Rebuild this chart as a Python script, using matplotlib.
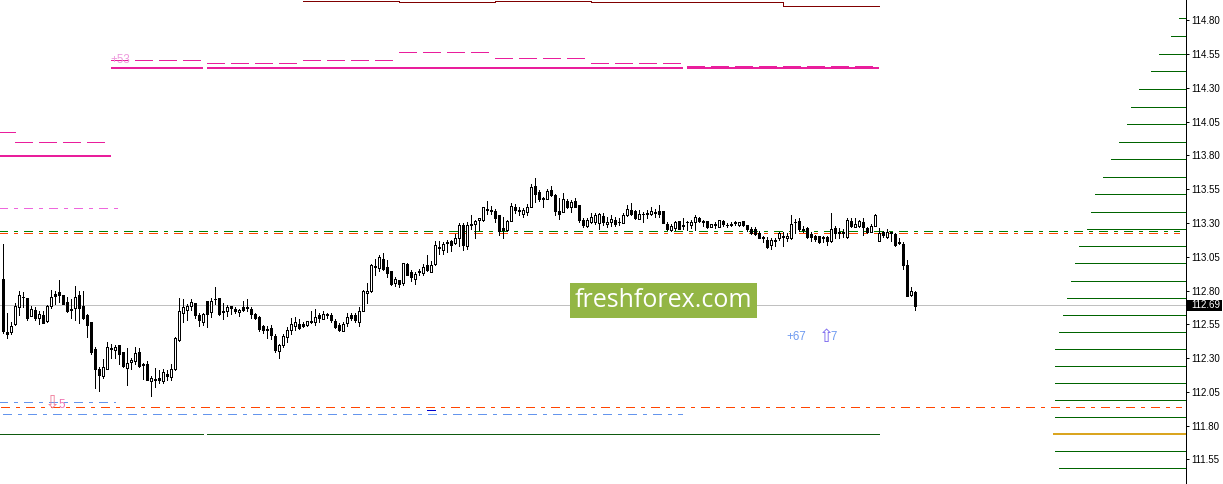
import matplotlib
matplotlib.use("Agg")
import matplotlib.pyplot as plt
from matplotlib.patches import Rectangle

plt.rcParams['lines.scale_dashes'] = False
plt.rcParams['lines.antialiased'] = False
plt.rcParams['patch.antialiased'] = False

opens = [112.885, 112.491, 112.491, 112.550, 112.676, 112.755, 112.742, 112.614, 112.653, 112.594,
         112.616, 112.572, 112.688, 112.772, 112.787, 112.764, 112.715, 112.663, 112.673, 112.764,
         112.686, 112.616, 112.565, 112.367, 112.217, 112.170, 112.222, 112.375, 112.362, 112.394,
         112.345, 112.229, 112.273, 112.281, 112.343, 112.254, 112.256, 112.133, 112.143, 112.150,
         112.133, 112.180, 112.162, 112.217, 112.431, 112.631, 112.658, 112.688, 112.705, 112.619,
         112.570, 112.720, 112.644, 112.740, 112.742, 112.648, 112.651, 112.683, 112.661, 112.644,
         112.676, 112.678, 112.661, 112.624, 112.602, 112.537, 112.515, 112.520, 112.461, 112.350,
         112.399, 112.456, 112.505, 112.540, 112.550, 112.552, 112.542, 112.574, 112.570, 112.619,
         112.592, 112.626, 112.621, 112.577, 112.545, 112.503, 112.562, 112.619, 112.621, 112.570,
         112.651, 112.784, 112.797, 112.972, 112.969, 113.033, 112.972, 112.942, 112.853, 112.875,
         112.853, 112.996, 112.935, 112.888, 112.942, 112.932, 112.986, 112.940, 112.996, 113.120,
         113.100, 113.159, 113.167, 113.154, 113.191, 113.282, 113.132, 113.292, 113.290, 113.322,
         113.319, 113.401, 113.396, 113.386, 113.356, 113.260, 113.248, 113.317, 113.416, 113.393,
         113.366, 113.384, 113.421, 113.574, 113.529, 113.485, 113.480, 113.542, 113.507, 113.386,
         113.384, 113.460, 113.416, 113.463, 113.433, 113.319, 113.278, 113.310, 113.310, 113.302,
         113.354, 113.290, 113.310, 113.324, 113.310, 113.302, 113.361, 113.393, 113.391, 113.332,
         113.369, 113.374, 113.366, 113.379, 113.389, 113.389, 113.292, 113.248, 113.260, 113.312,
         113.285, 113.310, 113.287, 113.310, 113.337, 113.317, 113.312, 113.273, 113.290, 113.273,
         113.315, 113.287, 113.292, 113.305, 113.287, 113.312, 113.282, 113.255, 113.253, 113.228,
         113.196, 113.174, 113.139, 113.176, 113.186, 113.204, 113.186, 113.191, 113.310, 113.312,
         113.253, 113.260, 113.218, 113.204, 113.201, 113.196, 113.194, 113.164, 113.263, 113.231,
         113.233, 113.196, 113.312, 113.273, 113.278, 113.307, 113.260, 113.236, 113.280, 113.169,
         113.231, 113.194, 113.231, 113.218, 113.157, 113.142, 112.986, 112.767, 112.787]
highs = [113.144, 112.631, 112.567, 112.705, 112.797, 112.789, 112.742, 112.686, 112.676, 112.646,
         112.646, 112.690, 112.801, 112.794, 112.875, 112.764, 112.750, 112.735, 112.831, 112.799,
         112.794, 112.629, 112.565, 112.380, 112.232, 112.293, 112.417, 112.402, 112.394, 112.394,
         112.345, 112.375, 112.303, 112.380, 112.377, 112.266, 112.276, 112.165, 112.227, 112.212,
         112.219, 112.209, 112.254, 112.454, 112.745, 112.737, 112.698, 112.735, 112.710, 112.631,
         112.636, 112.720, 112.742, 112.824, 112.742, 112.710, 112.690, 112.686, 112.681, 112.663,
         112.723, 112.735, 112.681, 112.631, 112.614, 112.545, 112.537, 112.542, 112.478, 112.404,
         112.478, 112.528, 112.594, 112.604, 112.587, 112.570, 112.572, 112.651, 112.661, 112.631,
         112.646, 112.636, 112.631, 112.587, 112.557, 112.570, 112.631, 112.636, 112.636, 112.676,
         112.804, 112.853, 112.994, 113.033, 113.063, 113.075, 113.026, 112.942, 112.903, 112.878,
         113.004, 113.001, 112.952, 112.940, 112.959, 112.996, 113.063, 113.016, 113.167, 113.164,
         113.162, 113.174, 113.174, 113.216, 113.297, 113.302, 113.310, 113.356, 113.322, 113.339,
         113.421, 113.460, 113.426, 113.406, 113.361, 113.347, 113.322, 113.445, 113.440, 113.421,
         113.411, 113.438, 113.591, 113.630, 113.544, 113.495, 113.549, 113.574, 113.514, 113.482,
         113.524, 113.480, 113.470, 113.485, 113.433, 113.334, 113.337, 113.371, 113.376, 113.371,
         113.371, 113.342, 113.356, 113.342, 113.334, 113.376, 113.433, 113.448, 113.396, 113.393,
         113.384, 113.396, 113.416, 113.401, 113.433, 113.389, 113.305, 113.290, 113.317, 113.312,
         113.334, 113.315, 113.322, 113.356, 113.347, 113.322, 113.317, 113.295, 113.307, 113.322,
         113.322, 113.297, 113.310, 113.317, 113.310, 113.317, 113.287, 113.273, 113.268, 113.238,
         113.204, 113.199, 113.186, 113.186, 113.233, 113.236, 113.223, 113.356, 113.332, 113.334,
         113.278, 113.268, 113.236, 113.211, 113.206, 113.206, 113.204, 113.374, 113.278, 113.260,
         113.258, 113.334, 113.334, 113.334, 113.322, 113.334, 113.273, 113.290, 113.366, 113.260,
         113.241, 113.253, 113.236, 113.223, 113.186, 113.162, 113.026, 112.824, 112.799]
lows = [112.483, 112.451, 112.481, 112.545, 112.621, 112.681, 112.584, 112.611, 112.584, 112.550,
        112.557, 112.570, 112.671, 112.700, 112.713, 112.700, 112.641, 112.594, 112.582, 112.562,
        112.589, 112.458, 112.333, 112.081, 112.059, 112.150, 112.219, 112.303, 112.301, 112.259,
        112.234, 112.103, 112.222, 112.259, 112.236, 112.148, 112.138, 112.022, 112.088, 112.113,
        112.113, 112.138, 112.135, 112.212, 112.429, 112.565, 112.584, 112.653, 112.599, 112.537,
        112.545, 112.532, 112.606, 112.700, 112.621, 112.592, 112.614, 112.626, 112.631, 112.614,
        112.646, 112.651, 112.599, 112.589, 112.500, 112.486, 112.446, 112.441, 112.343, 112.303,
        112.384, 112.421, 112.478, 112.505, 112.515, 112.528, 112.540, 112.557, 112.545, 112.570,
        112.587, 112.594, 112.565, 112.520, 112.503, 112.500, 112.537, 112.582, 112.570, 112.540,
        112.646, 112.710, 112.792, 112.915, 112.947, 112.952, 112.903, 112.843, 112.836, 112.829,
        112.843, 112.912, 112.873, 112.848, 112.912, 112.912, 112.947, 112.937, 112.991, 113.070,
        113.070, 113.085, 113.090, 113.144, 113.130, 113.100, 113.105, 113.253, 113.191, 113.248,
        113.317, 113.366, 113.364, 113.307, 113.208, 113.189, 113.243, 113.312, 113.371, 113.359,
        113.347, 113.359, 113.416, 113.458, 113.465, 113.421, 113.475, 113.500, 113.359, 113.332,
        113.379, 113.408, 113.384, 113.416, 113.310, 113.273, 113.273, 113.302, 113.292, 113.253,
        113.285, 113.273, 113.278, 113.280, 113.287, 113.297, 113.354, 113.356, 113.332, 113.327,
        113.310, 113.337, 113.356, 113.347, 113.347, 113.300, 113.248, 113.243, 113.248, 113.253,
        113.253, 113.248, 113.263, 113.248, 113.307, 113.278, 113.263, 113.268, 113.263, 113.268,
        113.280, 113.273, 113.280, 113.285, 113.280, 113.278, 113.238, 113.218, 113.211, 113.186,
        113.162, 113.117, 113.110, 113.130, 113.174, 113.130, 113.169, 113.184, 113.223, 113.243,
        113.236, 113.189, 113.169, 113.164, 113.154, 113.162, 113.139, 113.159, 113.186, 113.186,
        113.199, 113.191, 113.273, 113.268, 113.273, 113.211, 113.223, 113.231, 113.275, 113.164,
        113.199, 113.189, 113.169, 113.130, 113.144, 112.962, 112.759, 112.759, 112.656]
closes = [112.503, 112.481, 112.537, 112.686, 112.764, 112.750, 112.599, 112.661, 112.599, 112.624,
          112.562, 112.683, 112.750, 112.762, 112.769, 112.703, 112.651, 112.658, 112.750, 112.673,
          112.599, 112.547, 112.348, 112.222, 112.177, 112.232, 112.380, 112.370, 112.380, 112.333,
          112.241, 112.261, 112.288, 112.335, 112.244, 112.246, 112.140, 112.150, 112.138, 112.138,
          112.195, 112.170, 112.222, 112.446, 112.646, 112.676, 112.686, 112.713, 112.621, 112.584,
          112.624, 112.629, 112.720, 112.735, 112.629, 112.644, 112.676, 112.673, 112.651, 112.658,
          112.656, 112.671, 112.629, 112.594, 112.518, 112.508, 112.505, 112.473, 112.362, 112.394,
          112.461, 112.510, 112.550, 112.565, 112.525, 112.540, 112.572, 112.567, 112.604, 112.599,
          112.626, 112.619, 112.582, 112.532, 112.508, 112.552, 112.602, 112.594, 112.582, 112.646,
          112.797, 112.799, 112.986, 112.984, 113.046, 112.962, 112.930, 112.848, 112.883, 112.848,
          113.001, 112.917, 112.903, 112.920, 112.935, 112.974, 112.954, 112.989, 113.134, 113.112,
          113.144, 113.154, 113.139, 113.186, 113.287, 113.139, 113.282, 113.282, 113.312, 113.334,
          113.416, 113.396, 113.391, 113.337, 113.243, 113.250, 113.312, 113.426, 113.398, 113.389,
          113.393, 113.418, 113.564, 113.512, 113.475, 113.475, 113.537, 113.507, 113.391, 113.366,
          113.475, 113.421, 113.455, 113.421, 113.322, 113.285, 113.322, 113.344, 113.359, 113.366,
          113.310, 113.305, 113.332, 113.290, 113.305, 113.356, 113.401, 113.366, 113.337, 113.366,
          113.364, 113.369, 113.386, 113.374, 113.369, 113.302, 113.255, 113.278, 113.310, 113.255,
          113.275, 113.305, 113.307, 113.342, 113.317, 113.307, 113.273, 113.290, 113.282, 113.319,
          113.290, 113.282, 113.287, 113.300, 113.305, 113.287, 113.255, 113.226, 113.218, 113.191,
          113.191, 113.125, 113.174, 113.169, 113.226, 113.199, 113.204, 113.290, 113.305, 113.253,
          113.248, 113.199, 113.194, 113.179, 113.162, 113.191, 113.164, 113.253, 113.228, 113.226,
          113.228, 113.322, 113.278, 113.290, 113.315, 113.273, 113.236, 113.278, 113.359, 113.223,
          113.211, 113.233, 113.226, 113.137, 113.152, 112.991, 112.762, 112.794, 112.688]

tick_prices = [114.80, 114.55, 114.30, 114.05, 113.80, 113.55, 113.30, 113.05,
               112.80, 112.55, 112.30, 112.05, 111.80, 111.55]
last_price = 112.69

# horizontal profile on the right, longest near the bottom
profile_prices = [114.815, 114.681, 114.550, 114.422, 114.289, 114.156, 114.030, 113.897, 113.771,
                  113.638, 113.512, 113.379, 113.253, 113.130, 113.002, 112.868, 112.743, 112.617,
                  112.491, 112.365, 112.239, 112.114, 111.988, 111.862, 111.610, 111.485]
profile_counts = [2, 4, 7, 9, 12, 14, 15, 17, 19, 21, 23, 24, 25, 27, 28, 29, 30, 31, 32, 33, 33, 33,
                  33, 33, 33, 32]
profile_peak_price = 111.741
profile_peak_count = 33.25

# daily levels: every session is 24 bars
top_steps = [75, 99, 123, 147, 195, 219]
top_levels = [114.946, 114.933, 114.940, 114.933, 114.903, 114.903]

pivot_levels = [113.799, 114.449, 114.449, 114.449]
pivot_from = [-1, 27, 51, 171]
pivot_to = [27, 50, 170, 219]

dash_levels = [113.973, 113.899, 114.506, 114.482, 114.504, 114.563, 114.519, 114.482, 114.459]
dash_from = [-3, 3, 27, 51, 75, 99, 123, 147, 171]
dash_to = [3, 27, 51, 75, 99, 123, 147, 171, 219]

support_levels = [111.736, 111.736]
support_from = [-1, 51]
support_to = [50, 219]

dashdot_levels = [113.409, 113.243, 113.224, 111.973, 111.936, 111.884]
dashdot_from = [-1, -1, -1, -1, -0.3, 0]
dashdot_to = [29.6, 294, 294, 28.2, 294.5, 169.9]
dashdot_colors = ['#EE66DD', '#008000', '#FF4500', '#6495ED', '#FF4500', '#6495ED']

px = 0.72
dash_dot = (0, (9 * px, 6 * px, 3 * px, 6 * px))
long_dash = (0, (18 * px, 6 * px))

fig = plt.figure(figsize=(12.23, 4.84), dpi=100)
ax = fig.add_axes([0, 0, 1185.5 / 1223, 1])
xmax = 295.75
ax.set_xlim(-0.625, xmax)
ax.set_ylim(111.3684, 114.95)

ax.axhline(last_price, color='#C0C0C0', lw=px, zorder=1)

for lvl, a, b, col in zip(dashdot_levels, dashdot_from, dashdot_to, dashdot_colors):
    ax.plot([a, b], [lvl, lvl], color=col, lw=px, ls=dash_dot, zorder=2)

for lvl, a, b in zip(dash_levels, dash_from, dash_to):
    ax.plot([a, b], [lvl, lvl], color='#E91E9C', lw=px, ls=long_dash, zorder=2)

for lvl, a, b in zip(pivot_levels, pivot_from, pivot_to):
    ax.plot([a, b], [lvl, lvl], color='#E91E9C', lw=2 * px, solid_capstyle='butt', zorder=2)

for lvl, a, b in zip(support_levels, support_from, support_to):
    ax.plot([a, b], [lvl, lvl], color='#0F5A0F', lw=px, solid_capstyle='butt', zorder=2)

ax.step(top_steps, top_levels, where='post', color='#800000', lw=px, zorder=2)
ax.plot([106, 108], [111.914, 111.914], color='#0000CD', lw=px, zorder=2)

ax.hlines(profile_prices, [xmax - c + 0.375 for c in profile_counts], xmax, color='#006400', lw=px, zorder=2)
ax.hlines(profile_peak_price, xmax - profile_peak_count, xmax, color='#DAA520', lw=2 * px, zorder=2)

# candles
bars = list(range(len(opens)))
ax.vlines(bars, lows, highs, color='black', lw=px, zorder=3)
body_bottom = [min(o, c) for o, c in zip(opens, closes)]
body_height = [abs(c - o) for o, c in zip(opens, closes)]
body_color = ['white' if c > o else 'black' for o, c in zip(opens, closes)]
ax.bar(bars, body_height, width=0.5, bottom=body_bottom, color=body_color, edgecolor='black', lw=px, zorder=4)

# signal labels
ax.text(27, 114.506, '+53', color='#EE9ADD', fontsize=8.3, family='Liberation Sans', va='center', zorder=5)
ax.text(195.9, 112.456, '+67', color='#6E9AF0', fontsize=8.3, family='Liberation Sans', va='center', zorder=5)
ax.text(207.1, 112.456, '7', color='#6E9AF0', fontsize=8.3, family='Liberation Sans', va='center', zorder=5)
ax.text(206.05, 112.456, '\u21e7', color='#7B68EE', fontsize=13, family='DejaVu Sans', ha='center', va='center', zorder=5)
ax.text(12.4, 111.97, '\u21e9', color='#F0809C', fontsize=13, family='DejaVu Sans', ha='center', va='center', zorder=5)
ax.text(14.1, 111.953, '5', color='#EE72B0', fontsize=8.3, family='Liberation Sans', va='center', zorder=5)

for side in ['top', 'left', 'bottom']:
    ax.spines[side].set_visible(False)
ax.spines['right'].set_linewidth(px)
ax.set_xticks([])
ax.yaxis.tick_right()
ax.set_yticks(tick_prices)
ax.set_yticklabels([f'{p:.2f}' for p in tick_prices], fontsize=7, family='Liberation Sans')
ax.tick_params(axis='y', length=2.5, width=px, pad=2)

# last price tag on the scale
fig.add_artist(Rectangle((1187 / 1223, 1 - 310.7 / 484), 34.7 / 1223, 10.4 / 484, transform=fig.transFigure,
                         facecolor='black', edgecolor='none', zorder=9))
fig.text(1191.7 / 1223, 1 - 305.5 / 484, f'{last_price:.2f}', color='white', fontsize=7, family='Liberation Sans',
         ha='left', va='center', zorder=10)

# watermark
fig.add_artist(Rectangle((570 / 1223, 1 - 317.7 / 484), 187 / 1223, 34.4 / 484, transform=fig.transFigure,
                         facecolor='#93B645', edgecolor='none', zorder=10))
fig.text(663.5 / 1223, 1 - 300.5 / 484, 'freshforex.com', color='white', fontsize=18, family='Open Sans',
         ha='center', va='center', zorder=11)

fig.savefig('out.png', dpi=100)
